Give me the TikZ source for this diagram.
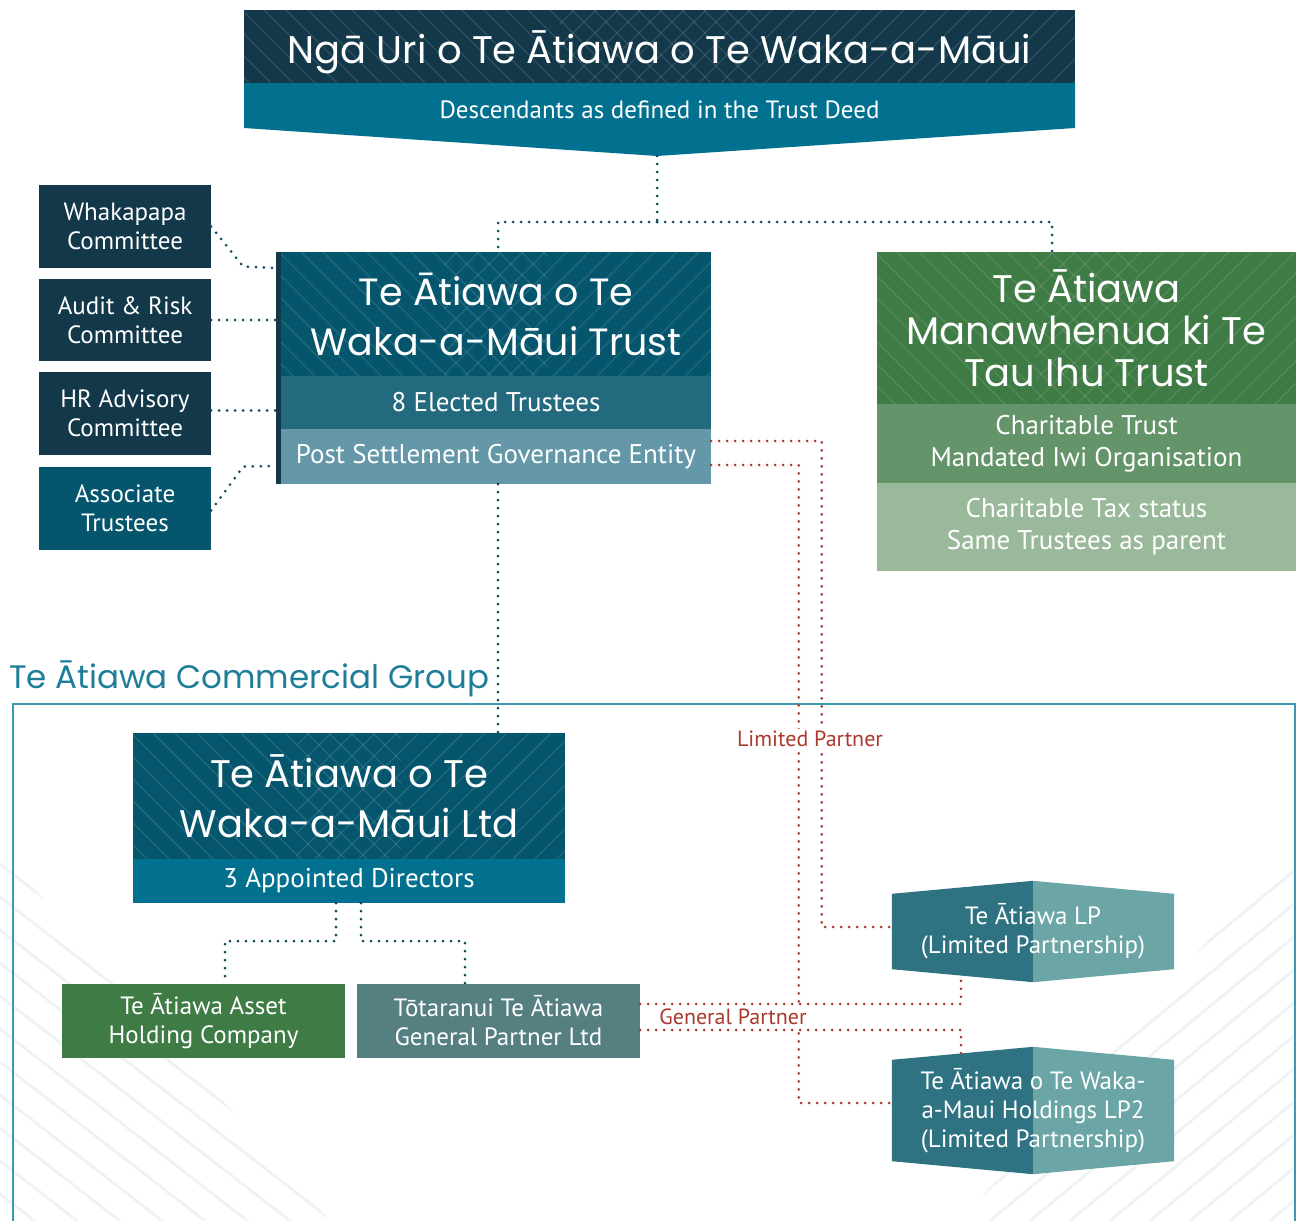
\documentclass[tikz,border=0pt]{standalone}
\usepackage{fontspec}
\setmainfont{PT Sans}
\newfontfamily\headfont{Poppins}
\usetikzlibrary{calc,backgrounds}

\definecolor{navy}{HTML}{12384A}
\definecolor{tealdark}{HTML}{05566D}
\definecolor{tealmid}{HTML}{02718F}
\definecolor{elected}{HTML}{246A7F}
\definecolor{psgeblue}{HTML}{6497A7}
\definecolor{iwigreen}{HTML}{3E7B45}
\definecolor{iwimid}{HTML}{649469}
\definecolor{iwilight}{HTML}{9AB99A}
\definecolor{gpgrey}{HTML}{567F82}
\definecolor{lpdark}{HTML}{2F7383}
\definecolor{lplight}{HTML}{6BA5A5}
\definecolor{partnerred}{HTML}{A93A2D}
\definecolor{dotnavy}{HTML}{0F4A60}
\definecolor{frameblue}{HTML}{3D98B2}
\definecolor{groupblue}{HTML}{1E7E9A}
\definecolor{faint}{HTML}{EEF4F4}

\tikzset{
  panel/.style={rectangle, inner sep=0pt, text=white, align=center,
    font=\fontsize{25}{29}\selectfont},
  widetext/.style={font=\fontsize{27}{32}\selectfont},
  headtext/.style={font=\headfont\fontsize{#1}{50}\selectfont},
  hatchline/.style={draw=white, opacity=0.12, line width=1.2pt},
  hatched/.style={path picture={
    \begin{scope}
      \clip (path picture bounding box.north west) rectangle
        ($(path picture bounding box.south west)!0.62!(path picture bounding box.south east)$);
      \foreach \k in {0,...,48}
        \draw[hatchline] ($(path picture bounding box.north west)+(\k*22-200,0)$) -- ++(200,200);
    \end{scope}
    \begin{scope}
      \clip ($(path picture bounding box.north west)!0.38!(path picture bounding box.north east)$)
        rectangle (path picture bounding box.south east);
      \foreach \k in {0,...,48}
        \draw[hatchline] ($(path picture bounding box.north west)+(\k*22,0)$) -- ++(-200,200);
    \end{scope}}},
  navydots/.style={draw=dotnavy, line width=3pt, line cap=round, dash pattern=on 0pt off 8pt},
  reddots/.style={draw=partnerred, line width=3pt, line cap=round, dash pattern=on 0pt off 8pt},
  partnerlabel/.style={fill=white, inner sep=2pt, text=partnerred, font=\fontsize{22}{24}\selectfont},
}

\begin{document}
\begin{tikzpicture}[x=1pt, y=-1pt]
  \useasboundingbox (0,0) rectangle (1296,1221);

  % faint background lines
  \begin{pgfonlayer}{background}
    \begin{scope}
      \clip (0,850) -- (0,1221) -- (330,1221) -- cycle;
      \foreach \k in {0,...,14}
        \draw[faint, line width=3pt] (-40,800+\k*33) -- ++(400,310);
    \end{scope}
    \begin{scope}
      \clip (1296,840) -- (1296,1221) -- (960,1221) -- cycle;
      \foreach \k in {0,...,14}
        \draw[faint, line width=3pt] (1340,800+\k*33) -- ++(-400,330);
    \end{scope}
  \end{pgfonlayer}

  % descendants banner
  \node[panel, hatched, fill=navy, minimum width=831pt, minimum height=73pt, headtext=38.5,
    text height=34pt, text depth=0pt]
    (ngaUri) at (659.5,46.5) {Ngā Uri o Te Ātiawa o Te Waka-a-Māui};
  \fill[tealmid] (244,83) -- (1075,83) -- (1075,128) -- (657,156) -- (244,128) -- cycle;
  \node[panel] (descendants) at (659.5,110) {Descendants as defined in the Trust Deed};
  \coordinate (descTip) at (657,156);
  \coordinate (split) at (657,222);

  % committees
  \node[panel, fill=navy, minimum width=172pt, minimum height=83pt] (whakapapa) at (125,226.5) {Whakapapa\\Committee};
  \node[panel, fill=navy, minimum width=172pt, minimum height=82pt] (audit) at (125,320) {Audit \& Risk\\Committee};
  \node[panel, fill=navy, minimum width=172pt, minimum height=83pt] (hr) at (125,413.5) {HR Advisory\\Committee};
  \node[panel, fill=tealdark, minimum width=172pt, minimum height=83pt] (associate) at (125,508.5) {Associate\\Trustees};

  % trust
  \node[fill=navy, inner sep=0pt, minimum width=5pt, minimum height=232pt] (trustBar) at (278.5,368) {};
  \node[panel, hatched, fill=tealdark, minimum width=430pt, minimum height=124pt, headtext=38]
    (trustTitle) at (496,314) {Te Ātiawa o Te\\Waka-a-Māui Trust};
  \node[panel, widetext, fill=elected, minimum width=430pt, minimum height=53pt] (trustElected) at (496,402.5) {8 Elected Trustees};
  \node[panel, widetext, fill=psgeblue, minimum width=430pt, minimum height=55pt] (psge) at (496,456.5) {Post Settlement Governance Entity};

  % manawhenua trust
  \node[panel, hatched, fill=iwigreen, minimum width=419pt, minimum height=152pt,
    font=\headfont\fontsize{38.5}{42}\selectfont] (iwiTitle) at (1086.5,328) {Te Ātiawa\\Manawhenua ki Te\\Tau Ihu Trust};
  \node[panel, widetext, fill=iwimid, minimum width=419pt, minimum height=79pt]
    (iwiMid) at (1086.5,443.5) {Charitable Trust\\Mandated Iwi Organisation};
  \node[panel, widetext, fill=iwilight, minimum width=419pt, minimum height=88pt]
    (iwiLow) at (1086.5,527) {Charitable Tax status\\Same Trustees as parent};

  % commercial group
  \node[anchor=base west, inner sep=0pt, text=groupblue, font=\headfont\fontsize{32.5}{36}\selectfont]
    (groupLabel) at (9,688) {Te Ātiawa Commercial Group};
  \draw[frameblue, line width=2.5pt] (13,1221) -- (13,704) -- (1295,704) -- (1295,1221);

  \node[panel, hatched, fill=tealdark, minimum width=432pt, minimum height=126pt, headtext=38.5]
    (ltdTitle) at (349,796) {Te Ātiawa o Te\\Waka-a-Māui Ltd};
  \node[panel, widetext, fill=tealmid, minimum width=432pt, minimum height=44pt] (ltdDirectors) at (349,881) {3 Appointed Directors};

  \node[panel, fill=iwigreen, minimum width=283pt, minimum height=74pt] (asset) at (203.5,1021) {Te Ātiawa Asset\\Holding Company};
  \node[panel, fill=gpgrey, minimum width=283pt, minimum height=74pt] (totaranui) at (498.5,1021) {Tōtaranui Te Ātiawa\\General Partner Ltd};

  \node[panel, minimum width=282pt, minimum height=75pt] (lpA) at (1033,931.5) {Te Ātiawa LP\\(Limited Partnership)};
  \node[panel, minimum width=282pt, minimum height=101pt] (lpB) at (1033,1110.5) {Te Ātiawa o Te Waka-\\a-Maui Holdings LP2\\(Limited Partnership)};
  \begin{pgfonlayer}{background}
    \foreach \lp in {lpA,lpB}{
      \fill[lpdark] (\lp.south west) -- (\lp.north west) -- ([yshift=13pt]\lp.north)
        -- ([yshift=-13pt]\lp.south) -- cycle;
      \fill[lplight] ([yshift=13pt]\lp.north) -- (\lp.north east) -- (\lp.south east)
        -- ([yshift=-13pt]\lp.south) -- cycle;
    }
  \end{pgfonlayer}

  % connectors
  \draw[navydots] (descTip) -- (split);
  \draw[navydots] (split) -| ([xshift=2pt]trustTitle.north);
  \draw[navydots] (split) -| ([xshift=-34.5pt]iwiTitle.north);
  \draw[navydots] (whakapapa.east) -- ++(32,40) -- ([yshift=100pt]trustBar.west);
  \draw[navydots] (audit.east) -- (audit.east -| trustBar.west);
  \draw[navydots] ([yshift=3pt]hr.east) -- ([yshift=3pt]hr.east -| trustBar.west);
  \draw[navydots] ([yshift=-2pt]associate.east) -- ++(32,-44) -- ([yshift=-98pt]trustBar.west);
  \draw[navydots] ([xshift=2pt]psge.south) -- ([xshift=2pt]psge.south |- ltdTitle.north);
  \draw[navydots] ([xshift=-13pt]ltdDirectors.south) -- ++(0,38) -| ([xshift=21.5pt]asset.north);
  \draw[navydots] ([xshift=12pt]ltdDirectors.south) -- ++(0,38) -| ([xshift=-33.5pt]totaranui.north);

  \draw[reddots] ([yshift=15.5pt]psge.east) -| ([xshift=-70pt,yshift=4.5pt]lpA.west) -- ([yshift=4.5pt]lpA.west);
  \draw[reddots] ([yshift=-8.5pt]psge.east) -| ([xshift=-93pt,yshift=7.5pt]lpB.west) -- ([yshift=7.5pt]lpB.west);
  \draw[reddots] ([yshift=17pt]totaranui.east) -| ([xshift=-72pt,yshift=-6pt]lpA.south);
  \draw[reddots] ([yshift=-9pt]totaranui.east) -| ([xshift=-72pt,yshift=6pt]lpB.north);

  \node[partnerlabel] (limitedLabel) at (810,739) {Limited Partner};
  \node[partnerlabel] (generalLabel) at (733,1017) {General Partner};
\end{tikzpicture}
\end{document}
